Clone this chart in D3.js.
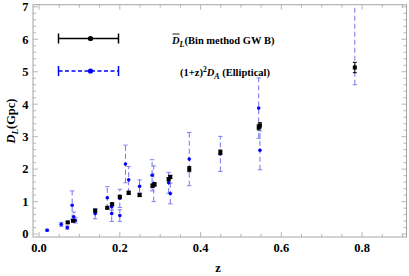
<!DOCTYPE html>
<html><head><meta charset="utf-8">
<script src="https://cdn.jsdelivr.net/npm/d3@7"></script>
<style>body{margin:0;background:#fff}svg{display:block}</style>
</head><body>
<svg id="c" width="409" height="276"></svg>
<script>
// Bin method GW B: z, D_L, err
const binZ   = [0.071,0.084,0.139,0.169,0.181,0.200,0.222,0.249,0.281,0.286,0.321,0.325,0.372,0.449,0.544,0.547,0.782];
const binD   = [0.36, 0.41, 0.72, 0.81, 0.92, 1.15, 1.27, 1.20, 1.49, 1.53, 1.69, 1.76, 2.00, 2.52, 3.29, 3.35, 5.13];
const binErr = [0.03, 0.03, 0.04, 0.03, 0.04, 0.04, 0.05, 0.04, 0.05, 0.05, 0.05, 0.05, 0.08, 0.07, 0.08, 0.08, 0.16];
// Elliptical: (1+z)^2 D_A
const ellZ   = [0.020,0.055,0.070,0.082,0.086,0.090,0.139,0.169,0.180,0.180,0.200,0.200,0.214,0.222,0.249,0.280,0.284,0.321,0.325,0.372,0.449,0.544,0.547,0.782];
const ellD   = [0.12, 0.30, 0.20, 0.89, 0.53, 0.42, 0.63, 1.12, 0.84, 0.63, 1.10, 0.57, 2.16, 1.67, 1.47, 1.81, 1.55, 1.58, 1.25, 2.31, 2.47, 3.88, 2.58, 7.40];
const ellErr = [0.03, 0.06, 0.05, 0.44, 0.15, 0.08, 0.16, 0.34, 0.10, 0.24, 0.28, 0.18, 0.58, 0.41, 0.20, 0.48, 0.55, 0.32, 0.32, 0.82, 0.54, 0.93, 0.60, 2.80];
const xTicks = [0.0,0.2,0.4,0.6,0.8];
const yTicks = [0,1,2,3,4,5,6,7];

const svg = d3.select("#c");
const L=33, R=406.5, T=4.7, B=237;
const x = d3.scaleLinear().domain([-0.015,0.91]).range([L,R]);
const y = d3.scaleLinear().domain([-0.09,7.065]).range([B,T]);
const yc = d3.scaleLinear().domain([-0.09,7.065]).range([B,T]).clamp(true);
const frameCol = "#a6a6a6";
const font = "'Liberation Serif','DejaVu Serif',serif";

// tick labels
const labG = svg.append("g").attr("font-family",font).attr("font-weight","bold").attr("font-size",12.5).attr("fill","#000");
yTicks.forEach(v=>labG.append("text").attr("x",28.5).attr("y",y(v)+4.3).attr("text-anchor","end").text(String(v)));
xTicks.forEach(v=>labG.append("text").attr("x",x(v)).attr("y",251.5).attr("text-anchor","middle").text(v.toFixed(1)));

// frame
svg.append("rect").attr("x",L).attr("y",T).attr("width",R-L).attr("height",B-T)
  .attr("fill","none").attr("stroke",frameCol).attr("stroke-width",1);

const xMinor = d3.range(0,0.91,0.05).filter(v=>!xTicks.some(t=>Math.abs(t-v)<1e-6));
const yMinor = d3.range(0,7.01,0.2).filter(v=>!yTicks.some(t=>Math.abs(t-v)<1e-6));
const g = svg.append("g").attr("stroke",frameCol).attr("stroke-width",0.8);
function xt(v,len){ const px=x(v);
  g.append("line").attr("x1",px).attr("x2",px).attr("y1",B).attr("y2",B-len);
  g.append("line").attr("x1",px).attr("x2",px).attr("y1",T).attr("y2",T+len);}
function yt(v,len){ const py=y(v);
  g.append("line").attr("x1",L).attr("x2",L+len).attr("y1",py).attr("y2",py);
  g.append("line").attr("x1",R).attr("x2",R-len).attr("y1",py).attr("y2",py);}
xTicks.forEach(v=>xt(v,5)); xMinor.forEach(v=>xt(v,3));
yTicks.forEach(v=>yt(v,5)); yMinor.forEach(v=>yt(v,3));

// axis labels
svg.append("text").attr("x",218).attr("y",272).attr("text-anchor","middle")
  .attr("font-family",font).attr("font-weight","bold").attr("font-size",12.5).text("z");
const yl = svg.append("text").attr("transform","translate(15,121) rotate(-90)")
  .attr("text-anchor","middle").attr("font-family",font).attr("font-size",12.5).attr("font-weight","bold");
yl.append("tspan").attr("font-style","italic").text("D");
yl.append("tspan").attr("font-style","italic").attr("font-size",9).attr("dy",3).text("L");
yl.append("tspan").attr("dy",-3).text("(Gpc)");

const plot = svg.append("g");

// elliptical error bars (blue dashed)
const ell = ellZ.map((z,i)=>({z,d:ellD[i],e:ellErr[i]}));
const inR = v => v>=-0.09 && v<=7.065;
const eg = plot.append("g");
eg.selectAll("line.v").data(ell).join("line")
  .attr("x1",d=>x(d.z)).attr("x2",d=>x(d.z)).attr("y1",d=>yc(d.d-d.e)).attr("y2",d=>yc(d.d+d.e))
  .attr("stroke","#7272f2").attr("stroke-width",1).attr("stroke-dasharray","5,3");
[-1,1].forEach(s=>{
  eg.selectAll("line.c"+(s>0?"h":"l")).data(ell.filter(d=>inR(d.d+s*d.e))).join("line")
    .attr("x1",d=>x(d.z)-2.2).attr("x2",d=>x(d.z)+2.2)
    .attr("y1",d=>y(d.d+s*d.e)).attr("y2",d=>y(d.d+s*d.e))
    .attr("stroke","#8080f2").attr("stroke-width",1);
});
eg.selectAll("circle").data(ell.filter(d=>inR(d.d))).join("circle")
  .attr("cx",d=>x(d.z)).attr("cy",d=>y(d.d)).attr("r",1.8).attr("fill","#0000ff");

// bin method error bars (black)
const bin = binZ.map((z,i)=>({z,d:binD[i],e:binErr[i]}));
const bg = plot.append("g");
bg.selectAll("line.v").data(bin).join("line")
  .attr("x1",d=>x(d.z)).attr("x2",d=>x(d.z)).attr("y1",d=>y(d.d-d.e)).attr("y2",d=>y(d.d+d.e))
  .attr("stroke","#000").attr("stroke-width",1);
[-1,1].forEach(s=>{
  bg.selectAll("line.c"+(s>0?"h":"l")).data(bin).join("line")
    .attr("x1",d=>x(d.z)-2).attr("x2",d=>x(d.z)+2)
    .attr("y1",d=>y(d.d+s*d.e)).attr("y2",d=>y(d.d+s*d.e))
    .attr("stroke","#000").attr("stroke-width",1);
});
bg.selectAll("rect").data(bin).join("rect")
  .attr("x",d=>x(d.z)-2).attr("y",d=>y(d.d)-2).attr("width",4).attr("height",4).attr("fill","#000");

// legend
function legendItem(yy, col, dash){
  const lg = svg.append("g");
  const ln = lg.append("line").attr("x1",58.5).attr("x2",118.5).attr("y1",yy).attr("y2",yy)
    .attr("stroke",col).attr("stroke-width",1.5);
  if (dash) ln.attr("stroke-dasharray",dash);
  [58.5,118.5].forEach(px=>lg.append("line").attr("x1",px).attr("x2",px).attr("y1",yy-5).attr("y2",yy+5)
    .attr("stroke",col).attr("stroke-width",1.5));
  lg.append("circle").attr("cx",90.5).attr("cy",yy).attr("r",2.6).attr("fill",col);
}
legendItem(38.5,"#000",null);
legendItem(71,"#0000ff","4,2.5");
const t1 = svg.append("text").attr("x",172).attr("y",44).attr("font-family",font)
  .attr("font-weight","bold").attr("font-size",10.5);
t1.append("tspan").attr("font-style","italic").text("D");
t1.append("tspan").attr("font-style","italic").attr("font-size",8).attr("dy",2.5).text("L");
t1.append("tspan").attr("dy",-2.5).text("(Bin method GW B)");
svg.append("line").attr("x1",172.5).attr("x2",179.5).attr("y1",34).attr("y2",34)
  .attr("stroke","#000").attr("stroke-width",0.9);
const t2 = svg.append("text").attr("x",180).attr("y",76).attr("font-family",font)
  .attr("font-weight","bold").attr("font-size",10.5);
t2.append("tspan").text("(1+z)");
t2.append("tspan").attr("font-size",7.5).attr("dy",-4).text("2");
t2.append("tspan").attr("dy",4).attr("font-style","italic").text("D");
t2.append("tspan").attr("font-style","italic").attr("font-size",8).attr("dy",2.5).text("A");
t2.append("tspan").attr("dy",-2.5).text(" (Elliptical)");
</script>
</body></html>
